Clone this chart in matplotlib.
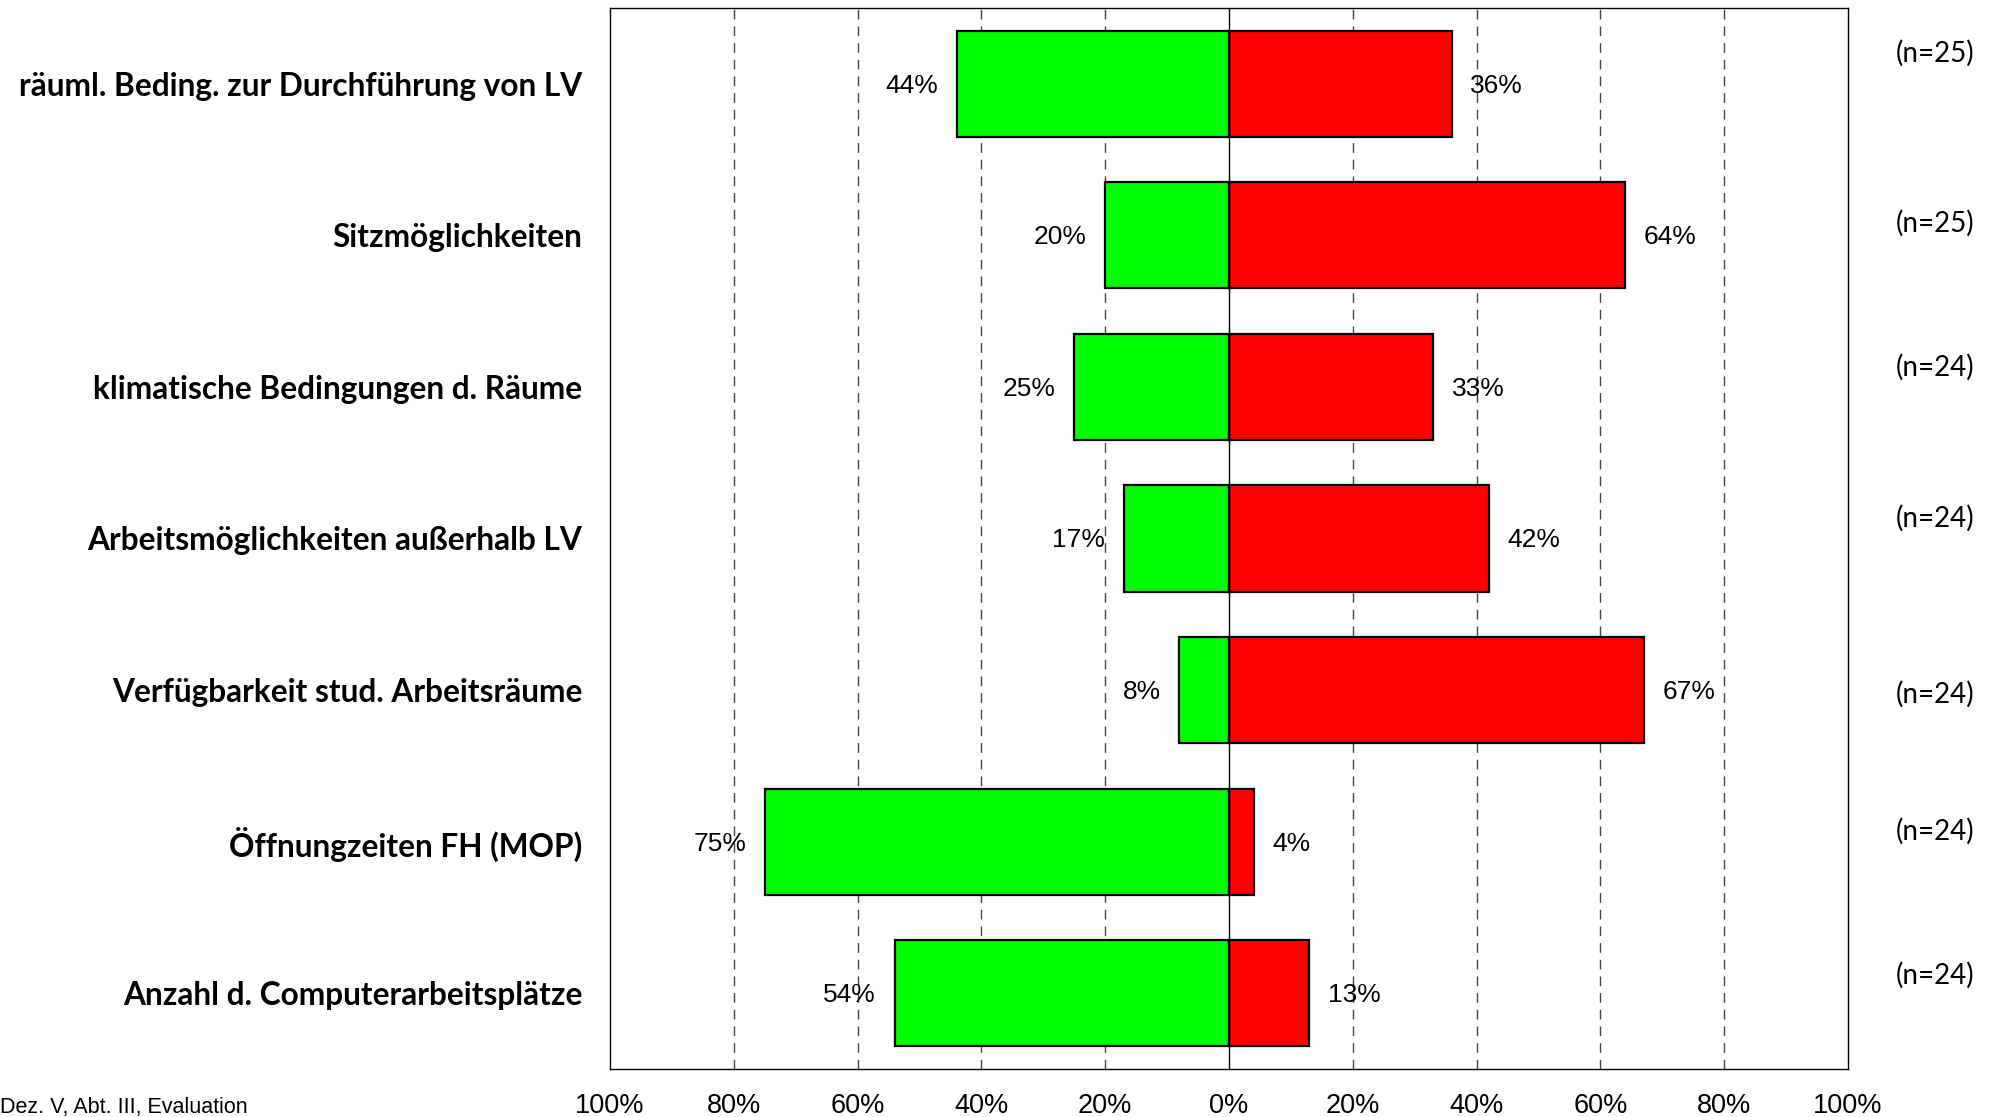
import matplotlib
matplotlib.use("Agg")
import matplotlib.pyplot as plt
import matplotlib.transforms as mtrans
import numpy as np

categories = [
    "räuml. Beding. zur Durchführung von LV",
    "Sitzmöglichkeiten",
    "klimatische Bedingungen d. Räume",
    "Arbeitsmöglichkeiten außerhalb LV",
    "Verfügbarkeit stud. Arbeitsräume",
    "Öffnungzeiten FH (MOP)",
    "Anzahl d. Computerarbeitsplätze",
]
green_vals = [44, 20, 25, 17, 8, 75, 54]
red_vals = [36, 64, 33, 42, 67, 4, 13]
n_labels = ["(n=25)", "(n=25)", "(n=24)", "(n=24)", "(n=24)", "(n=24)", "(n=24)"]
tick_vals = [-100, -80, -60, -40, -20, 0, 20, 40, 60, 80, 100]
tick_labels = ["100%", "80%", "60%", "40%", "20%", "0%", "20%", "40%", "60%", "80%", "100%"]
footer = "Dez. V, Abt. III, Evaluation"

# layout-only offsets for the n-labels (in category units)
n_offsets = [-0.20, -0.08, -0.13, -0.13, 0.03, -0.07, -0.12]

W, H = 1997, 1117
fig = plt.figure(figsize=(W / 100, H / 100), dpi=100)
ax = fig.add_axes([610 / W, 1 - 1069 / H, (1848 - 610) / W, (1069 - 8) / H])

y = np.arange(len(categories))
bh = 0.70
ax.barh(y, [-g for g in green_vals], height=bh, color="#00ff00",
        edgecolor="black", linewidth=1.6, zorder=3)
ax.barh(y, red_vals, height=bh, color="#ff0000",
        edgecolor="black", linewidth=1.6, zorder=3)

ax.set_xlim(-100, 100)
ax.set_ylim(len(categories) - 0.5, -0.5)

for v in tick_vals:
    if v in (-100, 100):
        continue
    if v == 0:
        ax.axvline(0, color="black", linewidth=1.0, zorder=4)
    else:
        ax.axvline(v, color="#444444", linewidth=1.0, linestyle=(0, (7, 5)), zorder=1)

ax.set_xticks(tick_vals)
ax.set_xticklabels(tick_labels, fontfamily="Liberation Sans", fontsize=19.5)
ax.tick_params(axis="x", length=0, pad=17)

ax.set_yticks(y)
ax.set_yticklabels(categories, fontfamily="Lato", fontweight="bold", fontsize=22.8)
ax.tick_params(axis="y", length=0, pad=20)

for s in ax.spines.values():
    s.set_linewidth(1.0)
    s.set_color("black")

lab_off = mtrans.offset_copy(ax.transData, fig=fig, x=0, y=-2, units="dots")
for i, (g, r) in enumerate(zip(green_vals, red_vals)):
    ax.text(-g - 3, i, f"{g}%", ha="right", va="center", transform=lab_off,
            fontfamily="Liberation Sans", fontsize=19, zorder=5)
    ax.text(r + 3, i, f"{r}%", ha="left", va="center", transform=lab_off,
            fontfamily="Liberation Sans", fontsize=19, zorder=5)

ntrans = mtrans.blended_transform_factory(fig.transFigure, ax.transData)
for i, (lab, off) in enumerate(zip(n_labels, n_offsets)):
    ax.text(1974 / W, i + off, lab, transform=ntrans,
            ha="right", va="center", fontfamily="Lato", fontsize=20)

fig.text(0.0, 1 - 1108 / H, footer, ha="left", va="center",
         fontfamily="Liberation Sans", fontsize=15.5)

fig.savefig("out.png", dpi=100)
